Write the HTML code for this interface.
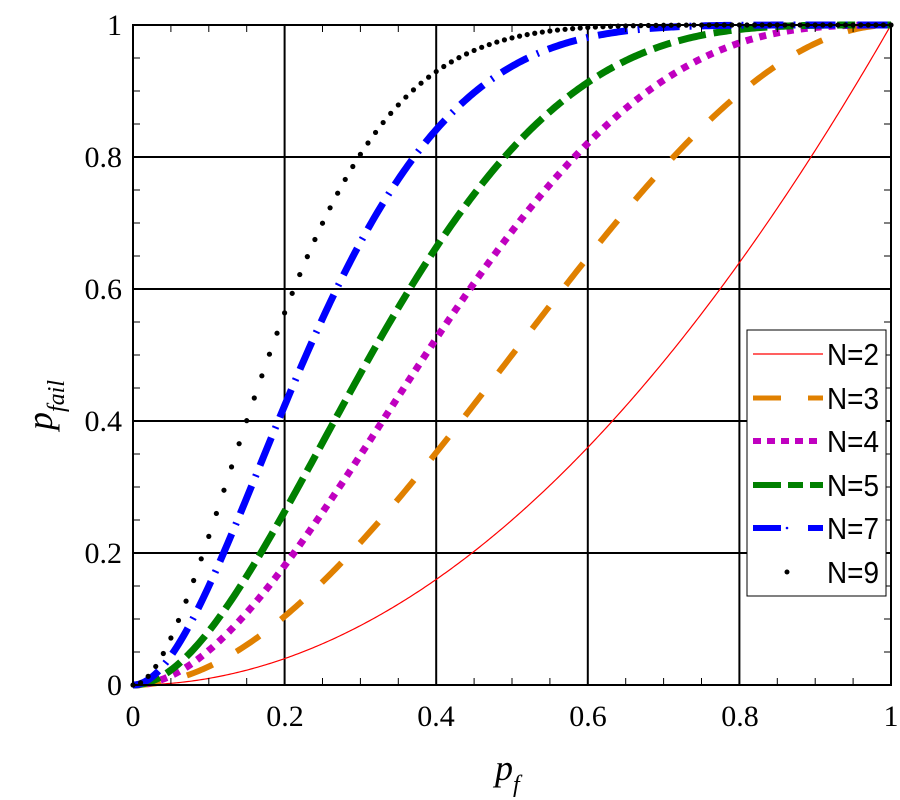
<!DOCTYPE html>
<html><head><meta charset="utf-8"><style>
body{margin:0;background:#fff}
svg{display:block}
text{font-family:"Liberation Serif",serif;fill:#000}
</style></head><body>
<svg id="s" width="900" height="800" xmlns="http://www.w3.org/2000/svg">
<rect width="900" height="800" fill="#fff"/>
<g id="grid"></g>
<g id="curves"></g>
<g id="axes"></g>
<g font-size="30" text-anchor="middle">
<text x="133" y="726">0</text><text x="285" y="726">0.2</text><text x="436" y="726">0.4</text><text x="588" y="726">0.6</text><text x="740" y="726">0.8</text><text x="891" y="726">1</text>
</g>
<g font-size="30" text-anchor="end">
<text x="122" y="695">0</text><text x="122" y="563">0.2</text><text x="122" y="431">0.4</text><text x="122" y="299">0.6</text><text x="122" y="167">0.8</text><text x="122" y="35">1</text>
</g>
<text x="495" y="780" font-size="36" font-style="italic">p<tspan font-size="24" dy="12">f</tspan></text>
<text transform="translate(52,405) rotate(-90)" font-size="36" font-style="italic" text-anchor="middle">p<tspan font-size="24" dy="12">fail</tspan></text>
<g id="legend">
<rect x="747" y="330" width="139" height="266" fill="#fff" stroke="#000" stroke-width="1"/>
<line x1="753" y1="354" x2="823" y2="354" stroke="#f00" stroke-width="1.2"/>
<line x1="753" y1="398" x2="823" y2="398" stroke="#e08000" stroke-width="5" stroke-dasharray="28 27"/>
<line x1="753" y1="441" x2="817" y2="441" stroke="#c000c0" stroke-width="6" stroke-dasharray="8 6"/>
<line x1="753" y1="485" x2="823" y2="485" stroke="#008000" stroke-width="6" stroke-dasharray="28 7 15 7"/>
<line x1="753" y1="528" x2="781" y2="528" stroke="#0000ff" stroke-width="6"/>
<circle cx="787" cy="528" r="1.3" fill="#0000ff"/>
<line x1="808" y1="528" x2="823" y2="528" stroke="#0000ff" stroke-width="6"/>
<circle cx="787" cy="572" r="2.5" fill="#000"/>
<g font-size="31">
<text x="827" y="365" textLength="52" lengthAdjust="spacingAndGlyphs" style="font-family:'Liberation Sans',sans-serif">N=2</text>
<text x="827" y="409" textLength="52" lengthAdjust="spacingAndGlyphs" style="font-family:'Liberation Sans',sans-serif">N=3</text>
<text x="827" y="452" textLength="52" lengthAdjust="spacingAndGlyphs" style="font-family:'Liberation Sans',sans-serif">N=4</text>
<text x="827" y="496" textLength="52" lengthAdjust="spacingAndGlyphs" style="font-family:'Liberation Sans',sans-serif">N=5</text>
<text x="827" y="539" textLength="52" lengthAdjust="spacingAndGlyphs" style="font-family:'Liberation Sans',sans-serif">N=7</text>
<text x="827" y="583" textLength="52" lengthAdjust="spacingAndGlyphs" style="font-family:'Liberation Sans',sans-serif">N=9</text>
</g>
</g>
</svg>
<script>
const X0=133,X1=891,Y0=685,Y1=25;
const sx=p=>X0+(X1-X0)*p, sy=v=>Y0-(Y0-Y1)*v;
const NS="http://www.w3.org/2000/svg";
function el(parent,tag,attrs){const e=document.createElementNS(NS,tag);for(const k in attrs)e.setAttribute(k,attrs[k]);document.getElementById(parent).appendChild(e);return e;}
for(let i=1;i<5;i++){const p=i*0.2;
 el("grid","line",{x1:sx(p),y1:Y1,x2:sx(p),y2:Y0,stroke:"#000","stroke-width":2});
 el("grid","line",{x1:X0,y1:sy(p),x2:X1,y2:sy(p),stroke:"#000","stroke-width":2});}
function f(N,p){return 1-Math.pow(1-p,N)-N*p*Math.pow(1-p,N-1);}
function path(N){let d="";for(let i=0;i<=400;i++){const p=i/400;d+=(i?"L":"M")+sx(p).toFixed(2)+","+sy(f(N,p)).toFixed(2);}return d;}
el("curves","path",{d:path(2),fill:"none",stroke:"#f00","stroke-width":1.2});
el("curves","path",{d:path(3),fill:"none",stroke:"#e08000","stroke-width":6,"stroke-dasharray":"28 27"});
el("curves","path",{d:path(4),fill:"none",stroke:"#c000c0","stroke-width":7,"stroke-dasharray":"7 7"});
el("curves","path",{d:path(5),fill:"none",stroke:"#008000","stroke-width":7,"stroke-dasharray":"28 8 18 8"});
el("curves","path",{d:path(7),fill:"none",stroke:"#0000ff","stroke-width":7,"stroke-dasharray":"30 10 2 10"});
for(let i=0;i<=100;i++){const p=i/100;el("curves","circle",{cx:sx(p),cy:sy(f(9,p)),r:2.6,fill:"#000"});}
el("axes","rect",{x:X0,y:Y1,width:X1-X0,height:Y0-Y1,fill:"none",stroke:"#000","stroke-width":2});
for(let i=1;i<20;i++){const p=i*0.05,x=sx(p),y=sy(p);
 el("axes","line",{x1:x,y1:Y0,x2:x,y2:Y0-7,stroke:"#000","stroke-width":1});
 el("axes","line",{x1:x,y1:Y1,x2:x,y2:Y1+7,stroke:"#000","stroke-width":1});
 el("axes","line",{x1:X0,y1:y,x2:X0+7,y2:y,stroke:"#000","stroke-width":1});
 el("axes","line",{x1:X1,y1:y,x2:X1-7,y2:y,stroke:"#000","stroke-width":1});}
document.getElementById("s").appendChild(document.getElementById("legend"));
</script>
</body></html>
